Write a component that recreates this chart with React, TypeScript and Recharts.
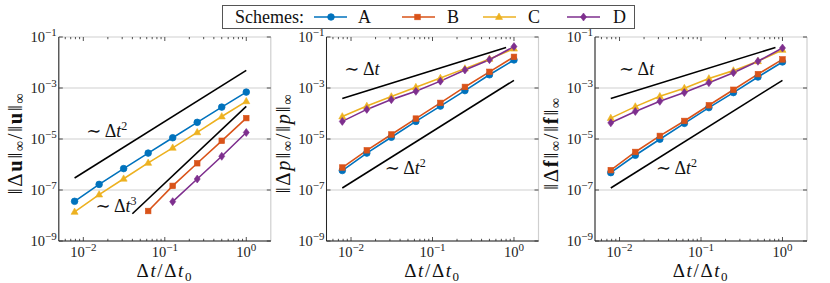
import React from 'react';
import { LineChart, Line, XAxis, YAxis, CartesianGrid, ReferenceDot } from 'recharts';

const FONT = 'Liberation Serif, DejaVu Serif, serif';

// time-step ratios Δt/Δt0
const dt = [0.0078125, 0.015625, 0.03125, 0.0625, 0.125, 0.25, 0.5, 1];

// Panel 1: ||Δu||∞/||u||∞   (shorter series are aligned to the largest Δt)
const uA = [3.6e-8, 1.66e-7, 6.9e-7, 2.8e-6, 1.12e-5, 4.5e-5, 1.78e-4, 6.9e-4];
const uB = [1.5e-8, 1.45e-7, 1.12e-6, 8.5e-6, 6.6e-5];
const uC = [1.38e-8, 6.6e-8, 2.75e-7, 1.15e-6, 4.5e-6, 1.82e-5, 7.6e-5, 3.0e-4];
const uD = [3.5e-8, 2.7e-7, 2.1e-6, 1.8e-5];

// Panel 2: ||Δp||∞/||p||∞
const pA = [5.8e-7, 2.8e-6, 1.17e-5, 4.9e-5, 1.95e-4, 7.9e-4, 3.3e-3, 1.26e-2];
const pB = [7.6e-7, 3.6e-6, 1.5e-5, 6.3e-5, 2.6e-4, 1.1e-3, 4.3e-3, 1.66e-2];
const pC = [7.6e-5, 1.95e-4, 4.6e-4, 1.07e-3, 2.45e-3, 5.75e-3, 1.38e-2, 3.47e-2];
const pD = [4.9e-5, 1.45e-4, 3.5e-4, 7.4e-4, 1.86e-3, 5.1e-3, 1.29e-2, 4.2e-2];

// Panel 3: ||Δf||∞/||f||∞
const fA = [4.8e-7, 2.3e-6, 9.8e-6, 4.1e-5, 1.7e-4, 6.6e-4, 2.7e-3, 1.05e-2];
const fB = [6.0e-7, 3.1e-6, 1.32e-5, 5.1e-5, 2.1e-4, 8.5e-4, 3.5e-3, 1.32e-2];
const fC = [6.6e-5, 1.86e-4, 4.7e-4, 9.8e-4, 2.35e-3, 4.8e-3, 1.12e-2, 3.1e-2];
const fD = [4.3e-5, 1.2e-4, 3.0e-4, 6.6e-4, 1.62e-3, 4.0e-3, 1.12e-2, 3.7e-2];

const seriesNames = ['A', 'B', 'C', 'D'];
const seriesColors = ['#0072BD', '#D95319', '#EDB120', '#7E2F8E'];
const seriesShapes = ['circle', 'square', 'triangle', 'diamond'];

const xDomain = [0.005, 2];
const yDomain = [1e-9, 1e-1];
const xMajorTicks = [0.01, 0.1, 1];
const xTickExponents = ['\u22122', '\u22121', '0'];
const xMinorTicks = [0.006, 0.007, 0.008, 0.009, 0.02, 0.03, 0.04, 0.05, 0.06, 0.07, 0.08, 0.09, 0.2, 0.3, 0.4, 0.5, 0.6, 0.7, 0.8, 0.9];
const yMajorTicks = [1e-9, 1e-7, 1e-5, 1e-3, 1e-1];
const yTickExponents = ['\u22129', '\u22127', '\u22125', '\u22123', '\u22121'];

// reference slope lines (endpoints)
const uSlope2X = [0.0078125, 1];
const uSlope2Y = [2.95e-7, 4.9e-3];
const uSlope3X = [0.04, 1];
const uSlope3Y = [1.17e-8, 1.9e-4];
const pSlope1X = [0.0078125, 0.8];
const pSlope1Y = [3.9e-4, 3.9e-2];
const pSlope2X = [0.0078125, 1];
const pSlope2Y = [1.2e-7, 2.0e-3];
const fSlope1X = [0.0078125, 0.82];
const fSlope1Y = [3.9e-4, 3.9e-2];
const fSlope2X = [0.0078125, 1];
const fSlope2Y = [1.2e-7, 2.0e-3];

// annotation anchors (text centres) and exponents
const uAnnoX = [0.0194, 0.0252];
const uAnnoY = [1.83e-5, 2.09e-8];
const uAnnoExp = ['2', '3'];
const pAnnoX = [0.0136, 0.0463];
const pAnnoY = [5.17e-3, 6.46e-7];
const pAnnoExp = ['', '2'];
const fAnnoX = [0.0162, 0.05];
const fAnnoY = [5.17e-3, 6.46e-7];
const fAnnoExp = ['', '2'];

const toPts = (xs: number[], ys: number[]) =>
  ys.map((y, i) => ({ x: xs[xs.length - ys.length + i], y }));

// layout constants
const CH_W = 280;
const CH_H = 283;
const PT = 37;
const PH = 204;
const PW = 212;
const YW = 50;
const XH = 42;
const AX = '#262626';
const TXT = { fontFamily: FONT };

function Marker({ cx, cy, shape, color }: any) {
  if (cx == null || cy == null || isNaN(cx) || isNaN(cy)) return <g />;
  if (shape === 'circle') return <circle cx={cx} cy={cy} r={3.3} fill={color} stroke={color} strokeWidth={0.8} />;
  if (shape === 'square') return <rect x={cx - 2.8} y={cy - 2.8} width={5.6} height={5.6} fill={color} stroke={color} strokeWidth={0.6} />;
  if (shape === 'triangle')
    return <polygon points={`${cx},${cy - 3.9} ${cx - 3.5},${cy + 2.4} ${cx + 3.5},${cy + 2.4}`} fill={color} stroke={color} strokeWidth={0.6} />;
  return <polygon points={`${cx},${cy - 4} ${cx + 3},${cy} ${cx},${cy + 4} ${cx - 3},${cy}`} fill={color} stroke={color} strokeWidth={0.6} />;
}

const allXTicks = [...xMinorTicks, ...xMajorTicks].sort((a, b) => a - b);

function XTick(props: any) {
  const { x, y, payload } = props;
  const i = xMajorTicks.indexOf(payload.value);
  const len = i >= 0 ? 4 : 2.2;
  return (
    <g>
      <line x1={x} x2={x} y1={y} y2={y - len} stroke={AX} strokeWidth={0.8} />
      <line x1={x} x2={x} y1={y - PH} y2={y - PH + len} stroke={AX} strokeWidth={0.8} />
      {i >= 0 && (
        <text className="serif" x={x} y={y + 16} textAnchor="middle" style={TXT} fontSize={14.5} fill="#222">
          10<tspan dy={-6} fontSize={11}>{xTickExponents[i]}</tspan>
        </text>
      )}
    </g>
  );
}

function YTick(props: any) {
  const { x, y, payload } = props;
  const i = yMajorTicks.indexOf(payload.value);
  return (
    <g>
      <line x1={x} x2={x + 4} y1={y} y2={y} stroke={AX} strokeWidth={0.8} />
      <line x1={x + PW} x2={x + PW - 4} y1={y} y2={y} stroke={AX} strokeWidth={0.8} />
      <text className="serif" x={x - 2} y={y + 4.5} textAnchor="end" style={TXT} fontSize={14.5} fill="#222">
        10<tspan dy={-6} fontSize={11}>{i >= 0 ? yTickExponents[i] : ''}</tspan>
      </text>
    </g>
  );
}

function AnnoLabel(props: any) {
  const vb = props.viewBox || {};
  const cx = (vb.x || 0) + (vb.width || 0) / 2;
  const cy = (vb.y || 0) + (vb.height || 0) / 2;
  return (
    <text className="serif" x={cx} y={cy + 5} textAnchor="middle" style={TXT} fontSize={18} fill="#111">
      {'\u223C \u0394'}
      <tspan fontStyle="italic">t</tspan>
      {props.exp ? <tspan dy={-7} fontSize={12}>{props.exp}</tspan> : null}
    </text>
  );
}

function YLabelText({ x, y, sym, style }: any) {
  const symEl = (k: string) =>
    style === 'bold' ? (
      <tspan key={k} fontWeight="bold">{sym}</tspan>
    ) : (
      <tspan key={k} fontStyle="italic">{sym}</tspan>
    );
  return (
    <text className="serif" x={x} y={y} transform={`rotate(-90 ${x} ${y})`} textAnchor="middle" dominantBaseline="central" style={TXT} fontSize={20.5} letterSpacing={1.8} fill="#111">
      {'\u2016\u0394'}
      {symEl('a')}
      {'\u2016'}
      <tspan dy={4} fontSize={14}>{'\u221E'}</tspan>
      <tspan dy={-4}>{'/\u2016'}</tspan>
      {symEl('b')}
      {'\u2016'}
      <tspan dy={4} fontSize={14}>{'\u221E'}</tspan>
    </text>
  );
}

function Panel({ left, plotLeft, series, slopes, annos, sym, symStyle }: any) {
  const margin = { top: PT, bottom: 0, left: plotLeft - YW, right: CH_W - plotLeft - PW };
  return (
    <div style={{ position: 'absolute', left, top: 0 }}>
      <LineChart width={CH_W} height={CH_H} margin={margin} style={TXT}>
        <CartesianGrid xAxisId="t" yAxisId="l" stroke="#cfcfcf" strokeWidth={1.2} />
        <XAxis
          xAxisId="b"
          dataKey="x"
          type="number"
          scale="log"
          domain={xDomain}
          allowDataOverflow
          ticks={allXTicks}
          interval={0}
          tickLine={false}
          tickSize={0}
          tickMargin={0}
          tick={XTick}
          axisLine={{ stroke: AX, strokeWidth: 1 }}
          height={XH}
          label={() => (
            <text className="serif" x={plotLeft + PW / 2} y={277} textAnchor="middle" style={TXT} fontSize={19} letterSpacing={1.6} fill="#111">
              {'\u0394'}
              <tspan fontStyle="italic">t</tspan>
              {'/\u0394'}
              <tspan fontStyle="italic">t</tspan>
              <tspan dy={4} fontSize={13}>0</tspan>
            </text>
          )}
        />
        <XAxis
          xAxisId="t"
          dataKey="x"
          orientation="top"
          type="number"
          scale="log"
          domain={xDomain}
          allowDataOverflow
          ticks={xMajorTicks}
          interval={0}
          tick={false}
          tickLine={false}
          height={0}
          axisLine={{ stroke: AX, strokeWidth: 1 }}
        />
        <YAxis
          yAxisId="l"
          type="number"
          scale="log"
          domain={yDomain}
          allowDataOverflow
          ticks={yMajorTicks}
          interval={0}
          tickLine={false}
          tickSize={0}
          tickMargin={0}
          tick={YTick}
          width={YW}
          axisLine={{ stroke: AX, strokeWidth: 1 }}
          label={() => <YLabelText x={plotLeft - 44} y={PT + PH / 2 + 4} sym={sym} style={symStyle} />}
        />
        <YAxis
          yAxisId="r"
          orientation="right"
          type="number"
          scale="log"
          domain={yDomain}
          allowDataOverflow
          ticks={yMajorTicks}
          tick={false}
          tickLine={false}
          width={0}
          axisLine={{ stroke: AX, strokeWidth: 1 }}
        />
        {slopes.map((s: any, i: number) => (
          <Line
            key={`s${i}`}
            xAxisId="b"
            yAxisId="l"
            data={s}
            dataKey="y"
            stroke="#000"
            strokeWidth={1.6}
            dot={false}
            activeDot={false}
            isAnimationActive={false}
          />
        ))}
        {series.map((d: any, i: number) => (
          <Line
            key={seriesNames[i]}
            name={seriesNames[i]}
            xAxisId="b"
            yAxisId="l"
            data={d}
            dataKey="y"
            stroke={seriesColors[i]}
            strokeWidth={1.6}
            dot={(p: any) => <Marker key={`d${i}-${p.index}`} cx={p.cx} cy={p.cy} shape={seriesShapes[i]} color={seriesColors[i]} />}
            activeDot={false}
            isAnimationActive={false}
          />
        ))}
        {annos.map((a: any, i: number) => (
          <ReferenceDot
            key={`a${i}`}
            xAxisId="b"
            yAxisId="l"
            x={a.x}
            y={a.y}
            r={1}
            fill="none"
            stroke="none"
            label={<AnnoLabel exp={a.exp} />}
          />
        ))}
      </LineChart>
    </div>
  );
}

function Legend() {
  const items = [
    { lx: 92, mx: 109, tx: 136 },
    { lx: 180, mx: 195.5, tx: 225 },
    { lx: 261, mx: 277, tx: 306 },
    { lx: 345, mx: 361.5, tx: 391 },
  ];
  return (
    <svg style={{ position: 'absolute', left: 222, top: 5 }} width={413} height={24}>
      <rect x={0.5} y={0.5} width={412} height={23} fill="#fff" stroke="#555" strokeWidth={1} />
      <text className="serif" x={13} y={17.5} style={TXT} fontSize={18} fill="#111">Schemes:</text>
      {items.map((it, i) => (
        <g key={seriesNames[i]}>
          <line x1={it.lx} x2={it.lx + 33} y1={12} y2={12} stroke={seriesColors[i]} strokeWidth={1.5} />
          <Marker cx={it.mx} cy={12} shape={seriesShapes[i]} color={seriesColors[i]} />
          <text className="serif" x={it.tx} y={17.5} style={TXT} fontSize={18} fill="#111">{seriesNames[i]}</text>
        </g>
      ))}
    </svg>
  );
}

const mkAnnos = (xs: number[], ys: number[], ex: string[]) => xs.map((x, i) => ({ x, y: ys[i], exp: ex[i] }));

export default function App() {
  const panels = [
    {
      left: 0,
      plotLeft: 58.8,
      series: [toPts(dt, uA), toPts(dt, uB), toPts(dt, uC), toPts(dt, uD)],
      slopes: [toPts(uSlope2X, uSlope2Y), toPts(uSlope3X, uSlope3Y)],
      annos: mkAnnos(uAnnoX, uAnnoY, uAnnoExp),
      sym: 'u',
      symStyle: 'bold',
    },
    {
      left: 270,
      plotLeft: 56.5,
      series: [toPts(dt, pA), toPts(dt, pB), toPts(dt, pC), toPts(dt, pD)],
      slopes: [toPts(pSlope1X, pSlope1Y), toPts(pSlope2X, pSlope2Y)],
      annos: mkAnnos(pAnnoX, pAnnoY, pAnnoExp),
      sym: 'p',
      symStyle: 'italic',
    },
    {
      left: 540,
      plotLeft: 55,
      series: [toPts(dt, fA), toPts(dt, fB), toPts(dt, fC), toPts(dt, fD)],
      slopes: [toPts(fSlope1X, fSlope1Y), toPts(fSlope2X, fSlope2Y)],
      annos: mkAnnos(fAnnoX, fAnnoY, fAnnoExp),
      sym: 'f',
      symStyle: 'bold',
    },
  ];
  return (
    <div style={{ position: 'absolute', left: 0, top: 0, width: 830, height: 283, background: '#fff', overflow: 'hidden', fontFamily: FONT }}>
      <style>{`.serif, .serif tspan, .recharts-wrapper text { font-family: 'Liberation Serif', 'DejaVu Serif', serif !important; }`}</style>
      {panels.map((p, i) => (
        <Panel key={i} {...p} />
      ))}
      <Legend />
    </div>
  );
}
